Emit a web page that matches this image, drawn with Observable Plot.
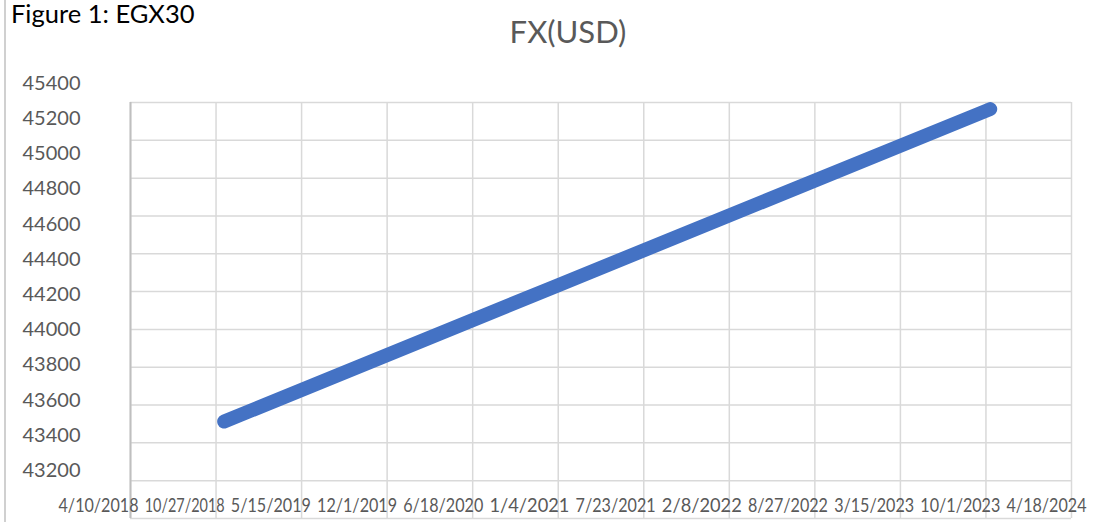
<!DOCTYPE html>
<html>
<head>
<meta charset="utf-8">
<script src="https://cdn.jsdelivr.net/npm/d3@7"></script>
<script src="https://cdn.jsdelivr.net/npm/@observablehq/plot@0.6"></script>
<style>
  html, body { margin: 0; padding: 0; background: #fff; overflow: hidden; }
  #page { position: relative; width: 1117px; height: 522px; font-family: Lato, sans-serif; }
  #edge { position: absolute; left: 4px; top: 0; width: 1.5px; height: 522px; background: #d0d0d0; }
  #fig { position: absolute; left: 11px; top: 1px; font-size: 25.5px; line-height: 1; color: #000; white-space: nowrap; }
  #title { position: absolute; left: 568px; top: 16px; transform: translateX(-50%); font-size: 31px; line-height: 1; color: #595959; white-space: nowrap; }
  #chart { position: absolute; left: 0; top: 60px; width: 1117px; height: 462px; }
  #chart svg { position: absolute; left: 0; top: 0; }
</style>
</head>
<body>
<div id="page">
  <div id="edge"></div>
  <div id="fig">Figure 1: EGX30</div>
  <div id="title">FX(USD)</div>
  <div id="chart"></div>
</div>
<script>
// ---- data ----
const tickDates = ["2018-04-10", "2018-10-27", "2019-05-15", "2019-12-01", "2020-06-18", "2021-01-04",
                   "2021-07-23", "2022-02-08", "2022-08-27", "2023-03-15", "2023-10-01", "2024-04-18"];
const tickValues = [43200, 43400, 43600, 43800, 44000, 44200, 44400, 44600, 44800, 45000, 45200, 45400];
const lineDates = ["2018-11-15", "2021-01-04", "2023-10-11"];
const lineValues = [43713, 44434, 45365];

const parse = d3.utcParse("%Y-%m-%d");
const dates = tickDates.map(parse);
const series = lineDates.map((d, i) => ({date: parse(d), value: lineValues[i]}));

const W = 1117, H = 462;
const fmtDate = d3.utcFormat("%-m/%-d/%Y");

// graphic layer: grid + line
const graphic = Plot.plot({
  width: W, height: H,
  marginLeft: 130, marginRight: 46, marginTop: 42, marginBottom: 4,
  style: {background: "transparent"},
  x: {type: "utc", domain: [dates[0], dates[dates.length - 1]], axis: null},
  y: {domain: [tickValues[0], tickValues[tickValues.length - 1]], axis: null},
  marks: [
    Plot.gridX(dates, {stroke: "#d9d9d9", strokeOpacity: 1, strokeWidth: 1.5}),
    Plot.gridY(tickValues, {stroke: "#d9d9d9", strokeOpacity: 1, strokeWidth: 1.5}),
    Plot.ruleX([dates[0]], {stroke: "#bfbfbf", strokeWidth: 2}),
    Plot.line(series, {x: "date", y: "value", stroke: "#4472C4", strokeWidth: 14, strokeLinecap: "round"})
  ]
});

// text layer: tick labels (drawn where the picture shows them)
const labels = Plot.plot({
  width: W, height: H,
  marginLeft: 130, marginRight: 46, marginTop: 0, marginBottom: 25,
  style: {background: "transparent", fontFamily: "Lato, sans-serif", fontSize: "20px", color: "#595959"},
  x: {type: "utc", domain: [dates[0], dates[dates.length - 1]], range: [98, 1046]},
  y: {domain: [tickValues[0], tickValues[tickValues.length - 1]], range: [410, 23]},
  marks: [
    Plot.axisY(tickValues, {tickSize: 0, tickPadding: 50, fontSize: 20, fill: "#595959", tickFormat: d3.format("d")}),
    Plot.axisX(dates, {tickSize: 0, tickPadding: 0, fontSize: 20, fill: "#595959", tickFormat: fmtDate})
  ]
});

const chart = document.getElementById("chart");
chart.appendChild(graphic);
chart.appendChild(labels);

// squeeze the crowded date labels horizontally so each fits its slot
labels.querySelectorAll('g[aria-label="x-axis tick label"] text').forEach(t => {
  t.setAttribute("font-size", "20");
  const w = t.getComputedTextLength();
  const s = Math.min(1, 80 / w);
  const tr = t.getAttribute("transform") || "";
  t.setAttribute("transform", tr + ` scale(${s.toFixed(3)},1)`);
});
</script>
</body>
</html>
